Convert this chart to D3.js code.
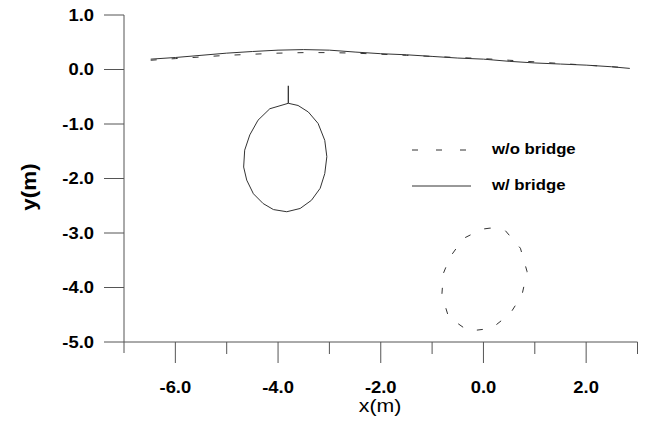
<!DOCTYPE html>
<html>
<head>
<meta charset="utf-8">
<script src="https://cdn.jsdelivr.net/npm/d3@7"></script>
<style>
  html, body { margin: 0; padding: 0; background: #fff; }
  svg { display: block; }
</style>
</head>
<body>
<svg id="chart" width="648" height="423"></svg>
<script>
// Free-surface profiles (x, y) in metres
const surfaceWithBridge = [
  [-6.48, 0.19], [-6.0, 0.22], [-5.5, 0.26], [-5.0, 0.30], [-4.5, 0.33],
  [-4.0, 0.355], [-3.5, 0.365], [-3.0, 0.355], [-2.5, 0.32], [-2.0, 0.29],
  [-1.5, 0.27], [-1.0, 0.24], [-0.5, 0.21], [0.0, 0.19], [0.5, 0.15],
  [1.0, 0.12], [1.5, 0.10], [2.0, 0.08], [2.5, 0.05], [2.85, 0.02]
];
const surfaceWithoutBridge = [
  [-6.48, 0.17], [-6.0, 0.20], [-5.5, 0.23], [-5.0, 0.26], [-4.5, 0.28],
  [-4.0, 0.30], [-3.5, 0.31], [-3.0, 0.31], [-2.5, 0.30], [-2.0, 0.28],
  [-1.5, 0.26], [-1.0, 0.24], [-0.5, 0.22], [0.0, 0.20], [0.5, 0.17],
  [1.0, 0.14], [1.5, 0.11], [2.0, 0.08], [2.5, 0.05], [2.85, 0.03]
];
// Body outline with the bridge (closed loop) and the connecting stem above it
const bodyWithBridge = [
  [-3.80, -0.62], [-4.16, -0.72], [-4.39, -0.93], [-4.55, -1.20], [-4.65, -1.48],
  [-4.67, -1.79], [-4.61, -2.03], [-4.48, -2.28], [-4.29, -2.46], [-4.09, -2.57],
  [-3.83, -2.61], [-3.57, -2.55], [-3.35, -2.40], [-3.18, -2.18], [-3.09, -1.91],
  [-3.05, -1.60], [-3.09, -1.30], [-3.22, -0.99], [-3.41, -0.78], [-3.61, -0.66]
];
const stemWithBridge = [[-3.80, -0.62], [-3.80, -0.30]];
// Body outline without the bridge (closed loop)
const bodyWithoutBridge = [
  [0.13, -2.91], [-0.03, -2.93], [-0.39, -3.10], [-0.65, -3.44], [-0.78, -3.74],
  [-0.81, -4.14], [-0.68, -4.54], [-0.29, -4.80], [0.16, -4.75], [0.52, -4.48],
  [0.75, -4.14], [0.85, -3.71], [0.72, -3.28], [0.42, -2.95]
];

const xMajorTicks = [-6, -4, -2, 0, 2];
const xMinorTicks = [-5, -3, -1, 1, 3];
const yTicks = [1, 0, -1, -2, -3, -4, -5];
const legendLabels = ["w/o bridge", "w/ bridge"];

const svg = d3.select("#chart");
const x = d3.scaleLinear().domain([-7, 3]).range([124, 637.5]);
const y = d3.scaleLinear().domain([-5, 1]).range([342, 15]);

const ink = "#333";
const axisInk = "#555";
const fontFamily = "'Liberation Sans', Arial, Helvetica, sans-serif";

// widened text helper
function label(g, tx, ty, str, opts) {
  const o = Object.assign({ size: 16, weight: "bold", anchor: "middle", sx: 1.15, rotate: 0 }, opts || {});
  return g.append("text")
    .attr("transform", `translate(${tx},${ty}) rotate(${o.rotate}) scale(${o.sx},1)`)
    .attr("text-anchor", o.anchor)
    .attr("font-family", fontFamily)
    .attr("font-weight", o.weight)
    .attr("font-size", o.size)
    .attr("fill", "#000")
    .text(str);
}

const axes = svg.append("g").attr("stroke", axisInk).attr("stroke-width", 1).attr("fill", "none");
// y axis line (runs slightly below the x axis)
axes.append("line").attr("x1", x(-7)).attr("x2", x(-7)).attr("y1", y(1)).attr("y2", y(-5) + 11);
// x axis line
axes.append("line").attr("x1", x(-7)).attr("x2", x(3)).attr("y1", y(-5)).attr("y2", y(-5));
// y ticks
yTicks.forEach(v => {
  axes.append("line").attr("x1", x(-7) - 20).attr("x2", x(-7)).attr("y1", y(v)).attr("y2", y(v));
});
// x ticks
xMajorTicks.forEach(v => {
  axes.append("line").attr("x1", x(v)).attr("x2", x(v)).attr("y1", y(-5)).attr("y2", y(-5) + 21);
});
xMinorTicks.forEach(v => {
  axes.append("line").attr("x1", x(v)).attr("x2", x(v)).attr("y1", y(-5)).attr("y2", y(-5) + 12);
});

const labels = svg.append("g");
yTicks.forEach(v => label(labels, 94, y(v) + 5.8, v.toFixed(1), { anchor: "end" }));
xMajorTicks.forEach(v => label(labels, x(v), 392.5, v.toFixed(1)));
label(labels, 380, 412, "x(m)", { weight: "normal", size: 18.5, sx: 1.15 });
label(labels, 36, 187, "y(m)", { size: 20, sx: 1.12, rotate: -90 });

const line = d3.line().x(d => x(d[0])).y(d => y(d[1]));
const closed = d3.line().x(d => x(d[0])).y(d => y(d[1])).curve(d3.curveLinearClosed);
const dash = "6,15";

const marks = svg.append("g").attr("fill", "none").attr("stroke", ink).attr("stroke-width", 1);
marks.append("path").attr("d", line(surfaceWithoutBridge)).attr("stroke-dasharray", dash);
marks.append("path").attr("d", line(surfaceWithBridge));
marks.append("path").attr("d", closed(bodyWithBridge));
marks.append("path").attr("d", line(stemWithBridge)).attr("stroke-width", 1.3);
marks.append("path").attr("d", closed(bodyWithoutBridge)).attr("stroke-dasharray", dash);

// legend
const legend = svg.append("g");
legend.append("line").attr("x1", 412).attr("x2", 466).attr("y1", 150).attr("y2", 150)
  .attr("stroke", ink).attr("stroke-dasharray", "6,18");
legend.append("line").attr("x1", 412).attr("x2", 471).attr("y1", 186).attr("y2", 186)
  .attr("stroke", ink);
label(legend, 492, 154, legendLabels[0], { anchor: "start", size: 15.5, sx: 1.08 });
label(legend, 492, 190, legendLabels[1], { anchor: "start", size: 15.5, sx: 1.08 });
</script>
</body>
</html>
